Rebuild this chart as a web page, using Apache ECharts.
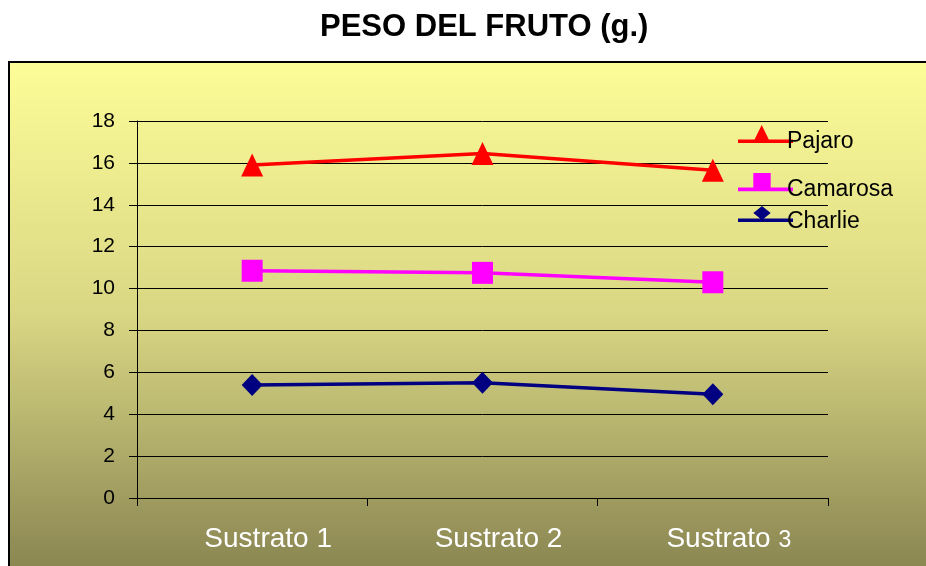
<!DOCTYPE html>
<html>
<head>
<meta charset="utf-8">
<script src="https://cdn.jsdelivr.net/npm/echarts@6/dist/echarts.min.js"></script>
<style>
  html, body { margin: 0; padding: 0; background: #ffffff; }
  #chart { width: 926px; height: 566px; }
</style>
</head>
<body>
<div id="chart"></div>
<script>
// Fruit weight (g) per substrate for three strawberry varieties
const categories = ['Sustrato 1', 'Sustrato 2', 'Sustrato 3'];
const pajaro = [15.9, 16.45, 15.65];
const camarosa = [10.85, 10.75, 10.3];
const charlie = [5.4, 5.5, 4.95];
const yMin = 0;
const yMax = 18;
const yStep = 2;

const FONT = "'Liberation Sans', Arial, sans-serif";

// Legend glyphs: a short line with the series marker sitting on it.
// The trailing zero-area segment only pads the box so the text centres lower.
const ICON_TRIANGLE = 'path://M0,14.5L55,14.5L55,18L0,18Z M15.3,17L23.7,0L32,17Z M0,34L55,34Z';
const ICON_SQUARE = 'path://M0,14.6L55,14.6L55,18.3L0,18.3Z M15.3,0L32.7,0L32.7,16.6L15.3,16.6Z M0,34L55,34Z';
const ICON_DIAMOND = 'path://M0,12.4L55,12.4L55,16L0,16Z M24,0L32.7,7L24,14L15.3,7Z M0,31.4L55,31.4Z';

function legendFor(name, icon, top, height) {
  return {
    data: [name],
    icon: icon,
    left: 738,
    top: top,
    padding: 0,
    itemWidth: 55,
    itemHeight: height,
    selectedMode: false,
    itemStyle: { borderWidth: 0 },
    textStyle: { fontFamily: FONT, fontSize: 23, color: '#000', padding: [0, 0, 0, -11] }
  };
}

const chart = echarts.init(document.getElementById('chart'), null, { renderer: 'canvas' });

chart.setOption({
  animation: false,
  backgroundColor: '#ffffff',
  title: {
    text: 'PESO DEL FRUTO (g.)',
    left: 320,
    top: 12,
    padding: 0,
    textStyle: { fontFamily: FONT, fontSize: 31, fontWeight: 'bold', color: '#000' }
  },
  graphic: [{
    type: 'rect',
    z: -10,
    silent: true,
    shape: { x: 9, y: 62, width: 940, height: 520 },
    style: {
      fill: {
        type: 'linear', x: 0, y: 0, x2: 0, y2: 1,
        colorStops: [
          { offset: 0, color: '#FDFD98' },
          { offset: 0.477, color: '#DAD784' },
          { offset: 0.65, color: '#BFBC74' },
          { offset: 0.92, color: '#928E57' },
          { offset: 1, color: '#88844F' }
        ]
      },
      stroke: '#000',
      lineWidth: 2
    }
  }],
  legend: [
    legendFor('Pajaro', ICON_TRIANGLE, 125, 34),
    legendFor('Camarosa', ICON_SQUARE, 173, 34),
    legendFor('Charlie', ICON_DIAMOND, 206, 31.4)
  ],
  grid: { left: 137, right: 98, top: 121, bottom: 68 },
  xAxis: {
    type: 'category',
    data: categories,
    boundaryGap: true,
    axisLine: { show: true, lineStyle: { color: '#000', width: 1 } },
    axisTick: { show: true, length: 8, inside: false, lineStyle: { color: '#000', width: 1 } },
    axisLabel: {
      margin: 27,
      padding: [0, 0, 0, 32],
      formatter: function (value) {
        // the trailing number of the last category is set a little smaller
        if (value === categories[2]) {
          const cut = value.lastIndexOf(' ');
          return '{s|' + value.slice(0, cut + 1) + '}{n|' + value.slice(cut + 1) + '}';
        }
        return '{s|' + value + '}';
      },
      rich: {
        s: { fontFamily: FONT, fontSize: 28, color: '#ffffff' },
        n: { fontFamily: FONT, fontSize: 23, color: '#ffffff', padding: [3, 0, 0, 0] }
      }
    },
    splitLine: { show: false }
  },
  yAxis: {
    type: 'value',
    min: yMin,
    max: yMax,
    interval: yStep,
    axisLine: { show: true, lineStyle: { color: '#000', width: 1 } },
    axisTick: { show: true, length: 8, inside: false, lineStyle: { color: '#000', width: 1 } },
    axisLabel: { margin: 22, fontFamily: FONT, fontSize: 21, color: '#000' },
    splitLine: { show: true, lineStyle: { color: '#000', width: 1 } }
  },
  series: [
    {
      name: 'Pajaro', type: 'line', data: pajaro,
      color: '#FF0000',
      symbol: 'triangle', symbolSize: [22, 23],
      lineStyle: { color: '#FF0000', width: 3.5 },
      itemStyle: { color: '#FF0000', borderWidth: 0 },
      z: 3
    },
    {
      name: 'Camarosa', type: 'line', data: camarosa,
      color: '#FF00FF',
      symbol: 'rect', symbolSize: [21, 22],
      lineStyle: { color: '#FF00FF', width: 3.5 },
      itemStyle: { color: '#FF00FF', borderWidth: 0 },
      z: 3
    },
    {
      name: 'Charlie', type: 'line', data: charlie,
      color: '#000080',
      symbol: 'diamond', symbolSize: [21, 22],
      lineStyle: { color: '#000080', width: 3.5 },
      itemStyle: { color: '#000080', borderWidth: 0 },
      z: 3
    }
  ]
});
</script>
</body>
</html>
